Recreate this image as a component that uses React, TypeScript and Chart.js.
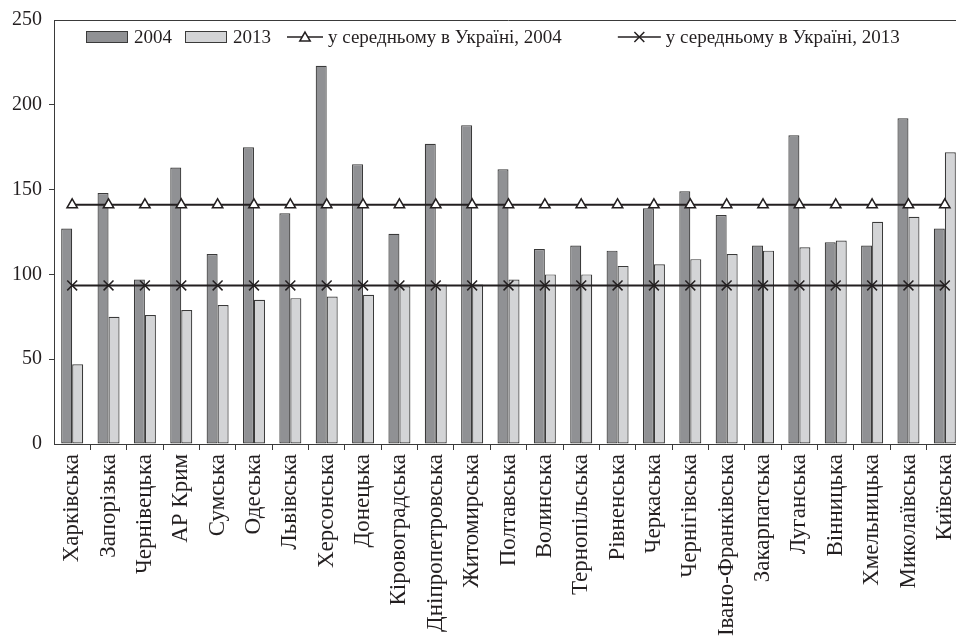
import React, { useEffect, useRef } from "react";
import { Chart, registerables } from "chart.js";

Chart.register(...registerables);

const CATEGORIES = [
  "Харківська", "Запорізька", "Чернівецька", "АР Крим", "Сумська", "Одеська",
  "Львівська", "Херсонська", "Донецька", "Кіровоградська", "Дніпропетровська",
  "Житомирська", "Полтавська", "Волинська", "Тернопільська", "Рівненська",
  "Черкаська", "Чернігівська", "Івано-Франківська", "Закарпатська", "Луганська",
  "Вінницька", "Хмельницька", "Миколаївська", "Київська",
];

const VALUES_2004 = [127, 148, 97, 163, 112, 175, 136, 223, 165, 124, 177, 188, 162, 115, 117, 114, 139, 149, 135, 117, 182, 119, 117, 192, 127];
const VALUES_2013 = [47, 75, 76, 79, 82, 85, 86, 87, 88, 93, 94, 94, 97, 100, 100, 105, 106, 109, 112, 114, 116, 120, 131, 134, 172];
const AVG_2004 = [141, 141, 141, 141, 141, 141, 141, 141, 141, 141, 141, 141, 141, 141, 141, 141, 141, 141, 141, 141, 141, 141, 141, 141, 141];
const AVG_2013 = [93.5, 93.5, 93.5, 93.5, 93.5, 93.5, 93.5, 93.5, 93.5, 93.5, 93.5, 93.5, 93.5, 93.5, 93.5, 93.5, 93.5, 93.5, 93.5, 93.5, 93.5, 93.5, 93.5, 93.5, 93.5];

const LABEL_2004 = "2004";
const LABEL_2013 = "2013";
const LABEL_AVG_2004 = "у середньому в Україні, 2004";
const LABEL_AVG_2013 = "у середньому в Україні, 2013";

const Y_MIN = 0;
const Y_MAX = 250;
const Y_STEP = 50;

const TEXT = "#231f20";
const AXIS = "#3a3a3a";
const DARK_FILL = "#909194";
const LIGHT_FILL = "#d3d4d6";
const BAR_BORDER = "#3a3a3a";
const FONT = '"Liberation Serif", "Times New Roman", serif';

function drawTriangle(ctx: CanvasRenderingContext2D, x: number, y: number, r: number) {
  ctx.beginPath();
  for (let k = 0; k < 3; k++) {
    const a = (k * 2 * Math.PI) / 3;
    const px = x + Math.sin(a) * r;
    const py = y - Math.cos(a) * r;
    if (k === 0) ctx.moveTo(px, py);
    else ctx.lineTo(px, py);
  }
  ctx.closePath();
  ctx.fillStyle = "#ffffff";
  ctx.fill();
  ctx.lineWidth = 1.5;
  ctx.strokeStyle = TEXT;
  ctx.stroke();
}

function drawCross(ctx: CanvasRenderingContext2D, x: number, y: number, r: number) {
  const d = r * Math.SQRT1_2;
  ctx.beginPath();
  ctx.moveTo(x - d, y - d);
  ctx.lineTo(x + d, y + d);
  ctx.moveTo(x + d, y - d);
  ctx.lineTo(x - d, y + d);
  ctx.lineWidth = 1.5;
  ctx.strokeStyle = TEXT;
  ctx.stroke();
}

const GAPS_AFTER = [13, 16, 56, 0];

const framePlugin = {
  id: "frameAndLegend",
  afterDraw(chart: any) {
    const ctx: CanvasRenderingContext2D = chart.ctx;
    const a = chart.chartArea;
    ctx.save();
    ctx.beginPath();
    ctx.strokeStyle = AXIS;
    ctx.lineWidth = 1;
    ctx.moveTo(a.left, a.top + 0.5);
    ctx.lineTo(a.right, a.top + 0.5);
    ctx.stroke();

    ctx.font = "19px " + FONT;
    ctx.textBaseline = "middle";
    ctx.textAlign = "left";
    const cy = a.top + 17;
    let x = a.left + 32;
    chart.data.datasets.forEach((ds: any, i: number) => {
      if (ds.type === "line") {
        const len = i === 2 ? 36 : 43;
        ctx.beginPath();
        ctx.strokeStyle = TEXT;
        ctx.lineWidth = 1.6;
        ctx.moveTo(x, cy);
        ctx.lineTo(x + len, cy);
        ctx.stroke();
        if (ds.pointStyle === "triangle") drawTriangle(ctx, x + len / 2, cy + 1, 6);
        else drawCross(ctx, x + len / 2, cy, 7);
        x += len + 5;
      } else {
        ctx.fillStyle = ds.backgroundColor;
        ctx.fillRect(x, cy - 5.5, 42, 11);
        ctx.strokeStyle = BAR_BORDER;
        ctx.lineWidth = 1;
        ctx.strokeRect(x + 0.5, cy - 5.5, 41, 11);
        x += 42 + 6;
      }
      ctx.fillStyle = TEXT;
      ctx.fillText(ds.label, x, cy + 1);
      x += ctx.measureText(ds.label).width + GAPS_AFTER[i];
    });
    ctx.restore();
  },
};

export default function App() {
  const canvasRef = useRef<HTMLCanvasElement | null>(null);

  useEffect(() => {
    if (!canvasRef.current) return;
    const chart = new Chart(canvasRef.current, {
      type: "bar",
      data: {
        labels: CATEGORIES,
        datasets: [
          {
            type: "bar",
            label: LABEL_2004,
            data: VALUES_2004,
            backgroundColor: DARK_FILL,
            borderColor: BAR_BORDER,
            borderWidth: 1.2,
            borderSkipped: false,
            order: 1,
          } as any,
          {
            type: "bar",
            label: LABEL_2013,
            data: VALUES_2013,
            backgroundColor: LIGHT_FILL,
            borderColor: BAR_BORDER,
            borderWidth: 1.2,
            borderSkipped: false,
            order: 1,
          } as any,
          {
            type: "line",
            label: LABEL_AVG_2004,
            data: AVG_2004,
            borderColor: TEXT,
            borderWidth: 2,
            pointStyle: "triangle",
            pointRadius: 6,
            pointBackgroundColor: "#ffffff",
            pointBorderColor: TEXT,
            pointBorderWidth: 1.5,
            fill: false,
            order: 0,
          } as any,
          {
            type: "line",
            label: LABEL_AVG_2013,
            data: AVG_2013,
            borderColor: TEXT,
            borderWidth: 2,
            pointStyle: "crossRot",
            pointRadius: 7,
            pointBorderColor: TEXT,
            pointBorderWidth: 1.5,
            fill: false,
            order: 0,
          } as any,
        ],
      },
      options: {
        animation: false,
        responsive: true,
        maintainAspectRatio: false,
        layout: { padding: { top: 20, right: 17, left: 0, bottom: 0 } },
        datasets: {
          bar: { barPercentage: 1, categoryPercentage: 0.605 },
        },
        plugins: {
          legend: { display: false },
          tooltip: { enabled: false },
        },
        scales: {
          x: {
            offset: true,
            grid: {
              display: true,
              drawOnChartArea: false,
              offset: true,
              tickLength: 6,
              lineWidth: 1,
              color: (c: any) => (c.index === 0 ? "rgba(0,0,0,0)" : AXIS),
            },
            border: { display: true, color: AXIS, width: 1 },
            ticks: {
              autoSkip: false,
              maxRotation: 90,
              minRotation: 90,
              padding: 4,
              color: TEXT,
              font: { family: FONT, size: 23 },
            },
            afterFit: (scale: any) => {
              scale.height = 195;
            },
          },
          y: {
            min: Y_MIN,
            max: Y_MAX,
            grid: {
              display: true,
              drawOnChartArea: false,
              tickLength: 5,
              color: (c: any) =>
                c.tick && (c.tick.value === Y_MIN || c.tick.value === Y_MAX) ? "rgba(0,0,0,0)" : AXIS,
            },
            border: { display: true, color: AXIS, width: 1 },
            ticks: {
              stepSize: Y_STEP,
              padding: 7,
              color: TEXT,
              font: { family: FONT, size: 20 },
            },
            afterFit: (scale: any) => {
              scale.width = 54;
            },
          },
        },
      },
      plugins: [framePlugin],
    });
    return () => chart.destroy();
  }, []);

  return (
    <div style={{ position: "fixed", left: 0, top: 0, width: "100vw", height: "100vh", overflow: "hidden", background: "#fff" }}>
      <div style={{ position: "absolute", left: 0, top: 0, width: 980, height: 639 }}>
        <canvas ref={canvasRef} />
      </div>
    </div>
  );
}
